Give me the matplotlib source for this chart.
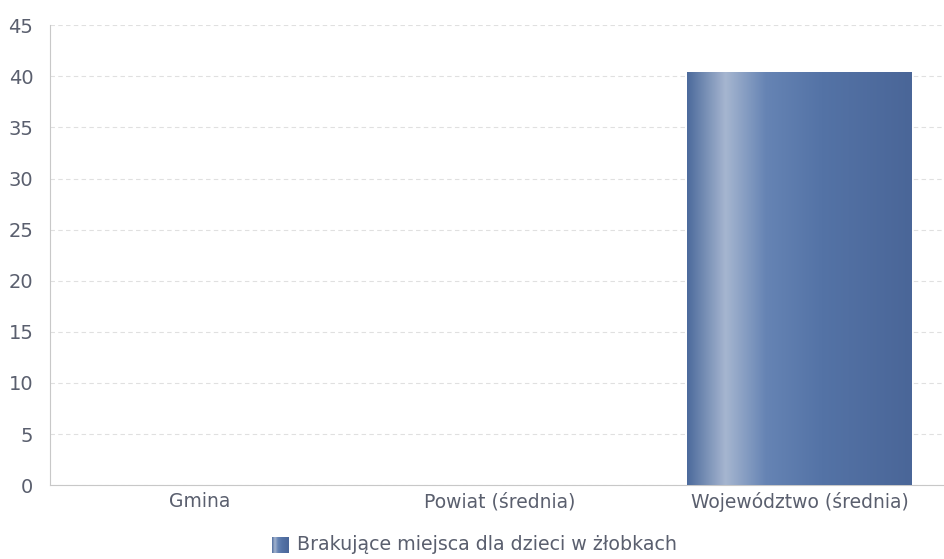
import matplotlib.pyplot as plt
import numpy as np
from matplotlib.colors import LinearSegmentedColormap

# data
categories = ["Gmina", "Powiat (średnia)", "Województwo (średnia)"]
values = [0, 0, 40.4]
series_name = "Brakujące miejsca dla dzieci w żłobkach"
yticks = [0, 5, 10, 15, 20, 25, 30, 35, 40, 45]

text_color = "#5a5f6e"
grad = LinearSegmentedColormap.from_list(
    "bar", [(0.0, "#4c6a9c"), (0.17, "#a6b6d0"), (0.35, "#6684b4"),
            (0.6, "#5473a6"), (1.0, "#4a6698")]
)

fig = plt.figure(figsize=(9.44, 5.59), dpi=100)
ax = fig.add_axes([0.053, 0.132, 0.953, 0.823])

x = np.arange(len(categories))
bars = ax.bar(x, values, width=0.75, color="none", edgecolor="none", zorder=3)

# fill each bar with a horizontal gradient clipped to its rectangle
ramp = np.linspace(0, 1, 256).reshape(1, -1)
for b in bars:
    if b.get_height() <= 0:
        continue
    x0, w, h = b.get_x(), b.get_width(), b.get_height()
    im = ax.imshow(ramp, cmap=grad, aspect="auto", extent=[x0, x0 + w, 0, h],
                   zorder=3, interpolation="bicubic")
    im.set_clip_path(b)

ax.set_xlim(-0.5, 2.5)
ax.set_ylim(0, 45)
ax.set_yticks(yticks)
ax.set_xticks(x)
ax.set_xticklabels(categories)
ax.tick_params(axis="y", length=0, labelsize=14, colors=text_color, pad=12)
ax.tick_params(axis="x", length=0, labelsize=13.5, colors=text_color, pad=5)

ax.grid(axis="y", color="#e0e0e0", linestyle=(0, (4, 3)), linewidth=0.8, zorder=0)
for s in ["top", "right"]:
    ax.spines[s].set_visible(False)
for s in ["left", "bottom"]:
    ax.spines[s].set_color("#c8c8c8")
    ax.spines[s].set_linewidth(0.8)

# legend with a small gradient swatch
lax = fig.add_axes([272 / 944, 1 - 553 / 559, 17 / 944, 16 / 559])
lax.imshow(ramp, cmap=grad, aspect="auto", interpolation="bicubic")
lax.axis("off")
fig.text(297 / 944, 1 - 545 / 559, series_name, fontsize=13.7, color=text_color,
         va="center", ha="left")

fig.savefig("out.png", dpi=100)
